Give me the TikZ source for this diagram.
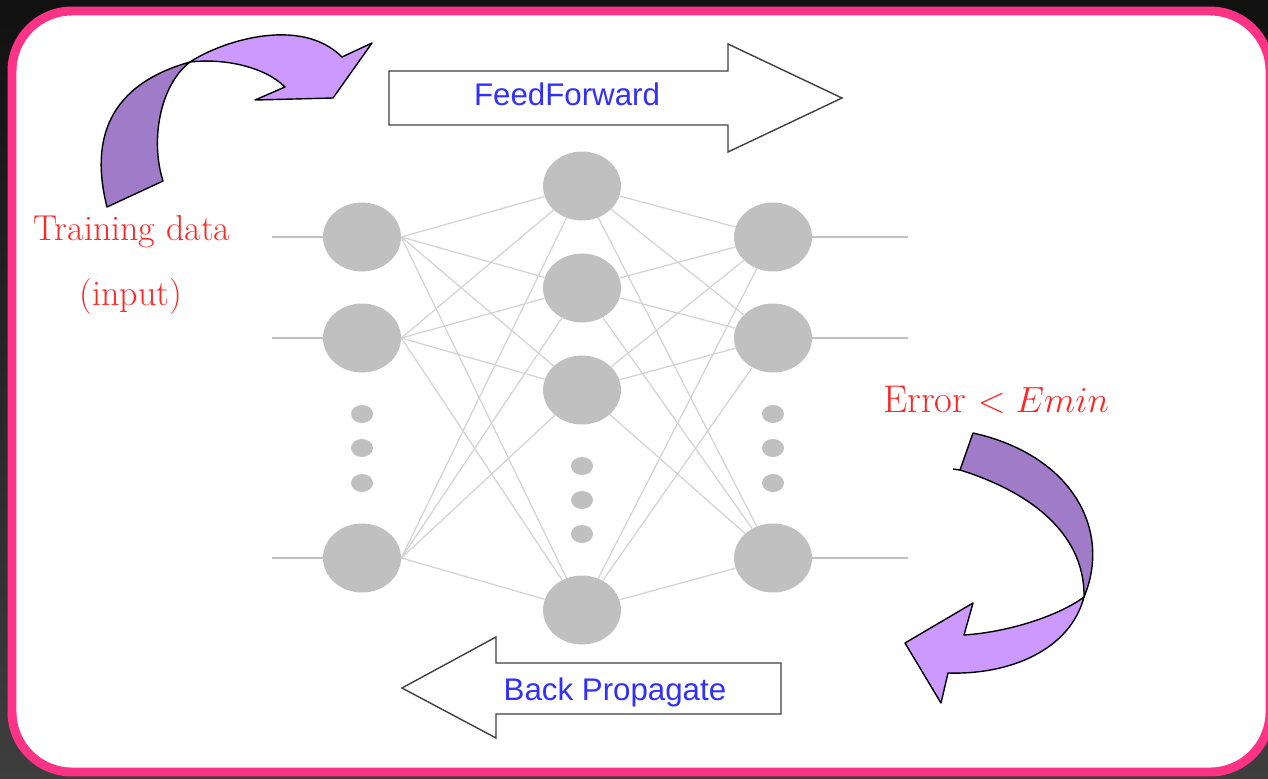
\documentclass[tikz,border=0pt]{standalone}
\usepackage{fontspec}
\newfontfamily\sansfont{Liberation Sans}
\usepackage{tikz}
\usetikzlibrary{shapes.geometric}
\definecolor{bgtop}{HTML}{111111}
\definecolor{bgbot}{HTML}{3E3E3E}
\definecolor{pinkframe}{HTML}{FF3385}
\definecolor{nodegray}{HTML}{C0C0C0}
\definecolor{wire}{HTML}{D3D3D3}
\definecolor{lilac}{HTML}{CC99FF}
\definecolor{plum}{HTML}{A07CC8}
\definecolor{redtext}{HTML}{FF2626}
\definecolor{bluetext}{HTML}{3030FF}
\tikzset{
  neuron/.style={ellipse, fill=nodegray, minimum width=1.56cm, minimum height=1.38cm, inner sep=0pt},
  more/.style={ellipse, fill=nodegray, minimum width=0.44cm, minimum height=0.36cm, inner sep=0pt},
  link/.style={draw=wire, line width=0.7pt},
  stub/.style={draw=nodegray, line width=1.4pt},
  block/.style={draw=black!75, line width=0.8pt, fill=white},
  ribbon/.style={draw=black, line width=0.8pt, line join=round},
  lab/.style={text=redtext, font=\fontsize{20.5}{24}\selectfont},
  labb/.style={text=bluetext, font=\sansfont\fontsize{17.8}{21}\selectfont},
}

\begin{document}
\begin{tikzpicture}[x=0.02cm, y=-0.02cm]
  \useasboundingbox (0,0) rectangle (1268,778);
  \clip (0,0) rectangle (1268,778);
  \fill[top color=bgtop, bottom color=bgbot] (0,0) rectangle (1268,778);
  \draw[pinkframe, line width=5.1pt, fill=white, rounded corners=1.2cm] (12,11) rectangle (1270,772);

  \foreach \y [count=\i] in {237,338,558} {
    \node[neuron] (in\i) at (362,\y) {};
    \node[neuron] (out\i) at (773,\y) {};
  }
  \foreach \y [count=\i] in {186,288,390,610}
    \node[neuron] (hid\i) at (582,\y) {};
  \foreach \y [count=\i] in {414,448,483} {
    \node[more] (ind\i) at (362,\y) {};
    \node[more] (outd\i) at (773,\y) {};
  }
  \foreach \y [count=\i] in {466,500,534}
    \node[more] (hidd\i) at (582,\y) {};

  \foreach \i in {1,2,3}
    \foreach \h in {1,...,4} {
      \draw[link] (in\i.east) -- (hid\h);
      \draw[link] (hid\h) -- (out\i);
    }
  \foreach \i in {1,2,3} {
    \draw[stub] (in\i.west) -- ++(-51,0);
    \draw[stub] (out\i.east) -- ++(96,0);
  }

  \draw[block] (389,71) -- (728,71) -- (728,44) -- (842,98) -- (728,152) -- (728,125) -- (389,125) -- cycle;
  \node[labb, anchor=base] (ff) at (567,105) {FeedForward};
  \draw[block] (402,688) -- (496,637) -- (496,663) -- (781,663) -- (781,714) -- (496,714) -- (496,738) -- cycle;
  \node[labb, anchor=base] (bp) at (615,700) {Back Propagate};

  \draw[ribbon, fill=plum] (107,207) -- (163,181) .. controls (150,140) and (160,85) .. (190,62)
    .. controls (108,85) and (90,140) .. cycle;
  \draw[ribbon, fill=lilac] (190,62) .. controls (220,42) and (300,15) .. (342,57) -- (372,43) -- (333,98)
    -- (255,100) -- (285,87) .. controls (265,67) and (225,58) .. cycle;

  \draw[ribbon, fill=plum] (973,433) .. controls (1072,455) and (1112,530) .. (1084,597)
    .. controls (1085,540) and (1040,495) .. (960,470) -- cycle;
  \draw[ribbon] (960,470) -- (953,469);
  \draw[ribbon, fill=lilac] (1084,597) .. controls (1070,650) and (1010,675) .. (948,673) -- (941,703)
    -- (905,643) -- (973,603) -- (964,635) .. controls (1010,632) and (1060,615) .. cycle;

  \node[lab, anchor=base] (train) at (132,240) {Training data};
  \node[lab, anchor=base] (inp) at (131,305) {(input)};
  \node[lab, anchor=base, font=\fontsize{22}{26}\selectfont] (err) at (996,412) {Error $< Emin$};
\end{tikzpicture}
\end{document}
